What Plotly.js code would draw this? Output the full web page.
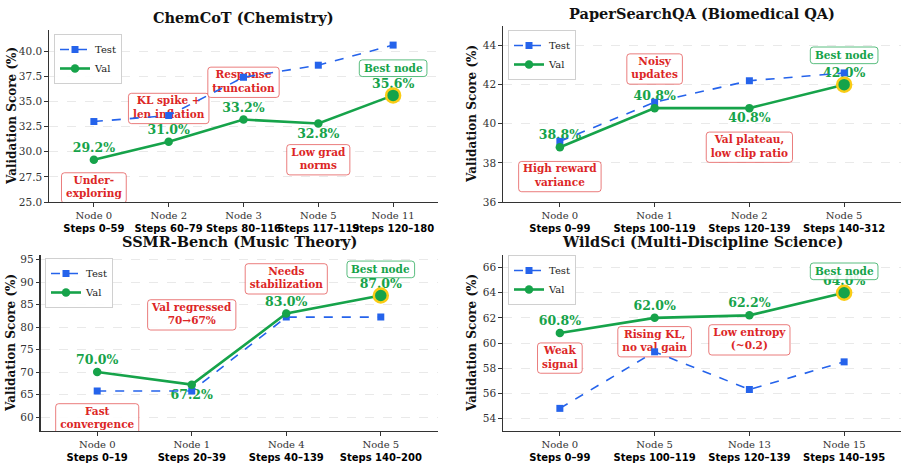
<!DOCTYPE html>
<html>
<head>
<meta charset="utf-8">
<script src="https://cdn.plot.ly/plotly-3.0.1.min.js"></script>
<style>
  html, body { margin: 0; padding: 0; background: #fff; }
  #chart { width: 908px; height: 464px; }
</style>
</head>
<body>
<div id="chart"></div>
<script>
// ---- ChemCoT (Chemistry) ----
const chemNodes = ['Node 0', 'Node 2', 'Node 3', 'Node 5', 'Node 11'];
const chemSteps = ['Steps 0–59', 'Steps 60–79', 'Steps 80–116', 'Steps 117–119', 'Steps 120–180'];
const chemTest = [33.0, 33.6, 37.4, 38.6, 40.6];
const chemVal = [29.2, 31.0, 33.2, 32.8, 35.6];

// ---- PaperSearchQA (Biomedical QA) ----
const paperNodes = ['Node 0', 'Node 1', 'Node 2', 'Node 5'];
const paperSteps = ['Steps 0–99', 'Steps 100–119', 'Steps 120–139', 'Steps 140–312'];
const paperTest = [39.1, 41.1, 42.2, 42.6];
const paperVal = [38.8, 40.8, 40.8, 42.0];

// ---- SSMR-Bench (Music Theory) ----
const ssmrNodes = ['Node 0', 'Node 1', 'Node 4', 'Node 5'];
const ssmrSteps = ['Steps 0–19', 'Steps 20–39', 'Steps 40–139', 'Steps 140–200'];
const ssmrTest = [65.8, 65.8, 82.2, 82.2];
const ssmrVal = [70.0, 67.2, 83.0, 87.0];

// ---- WildSci (Multi-Discipline Science) ----
const wildNodes = ['Node 0', 'Node 5', 'Node 13', 'Node 15'];
const wildSteps = ['Steps 0–99', 'Steps 100–119', 'Steps 120–139', 'Steps 140–195'];
const wildTest = [54.8, 59.3, 56.3, 58.5];
const wildVal = [60.8, 62.0, 62.2, 64.0];

const W = 908, H = 464;
const SERIF = 'DejaVu Serif, serif';
const SANS = 'DejaVu Sans';
const BLUE = '#2563eb';
const GREEN = '#16a34a';
const RED = '#dc2626';
const GOLD = '#facc15';
const AXIS = '#333333';
const NOTE_SIZE = 10.5;

const px = v => v / W;
const py = v => 1 - v / H;

// text measuring for the rounded note boxes
const ctx = document.createElement('canvas').getContext('2d');
ctx.font = 'bold ' + NOTE_SIZE + 'px "DejaVu Serif"';
function roundedBox(lines) {
  const w = Math.max(...lines.map(l => ctx.measureText(l).width)) + 9;
  const h = lines.length * NOTE_SIZE * 1.3 + 3;
  const a = w / 2, b = h / 2, r = 3;
  return 'M ' + (-a + r) + ',' + (-b) + ' L ' + (a - r) + ',' + (-b) +
    ' Q ' + a + ',' + (-b) + ' ' + a + ',' + (-b + r) +
    ' L ' + a + ',' + (b - r) + ' Q ' + a + ',' + b + ' ' + (a - r) + ',' + b +
    ' L ' + (-a + r) + ',' + b + ' Q ' + (-a) + ',' + b + ' ' + (-a) + ',' + (b - r) +
    ' L ' + (-a) + ',' + (-b + r) + ' Q ' + (-a) + ',' + (-b) + ' ' + (-a + r) + ',' + (-b) + ' Z';
}

// Layout of each panel (pixel boxes) plus its notes
const panels = [
  {
    title: 'ChemCoT (Chemistry)', nodes: chemNodes, steps: chemSteps, test: chemTest, val: chemVal,
    box: [49, 438, 30, 202], yRange: [25, 42.1], dtick: 2.5, fmt: '.1f',
    labelPos: ['top center', 'top center', 'top center', 'bottom center', 'top center'],
    notes: [[0, 26.4, ['Under-', 'exploring']], [1, 34.3, ['KL spike +', 'len inflation']],
            [2, 36.9, ['Response', 'truncation']], [3, 29.2, ['Low grad', 'norms']]],
    bestY: 38.3, legendAt: [54, 34], titleY: 17, yTitleX: 12
  },
  {
    title: 'PaperSearchQA (Biomedical QA)', nodes: paperNodes, steps: paperSteps, test: paperTest, val: paperVal,
    box: [503, 901, 26, 202], yRange: [36, 45], dtick: 2, fmt: 'd',
    labelPos: ['top center', 'top center', 'bottom center', 'top center'],
    notes: [[0, 37.3, ['High reward', 'variance']], [1, 42.8, ['Noisy', 'updates']],
            [2, 38.8, ['Val plateau,', 'low clip ratio']]],
    bestY: 43.5, legendAt: [508, 30], titleY: 14, yTitleX: 472
  },
  {
    title: 'SSMR-Bench (Music Theory)', nodes: ssmrNodes, steps: ssmrSteps, test: ssmrTest, val: ssmrVal,
    box: [40.5, 437.5, 255, 431], yRange: [56.9, 96], dtick: 5, fmt: 'd',
    labelPos: ['top center', 'bottom center', 'top center', 'top center'],
    notes: [[0, 59.6, ['Fast', 'convergence']], [1, 82.7, ['Val regressed', '70→67%']],
            [2, 90.7, ['Needs', 'stabilization']]],
    bestY: 92.8, legendAt: [45, 258], titleY: 241, yTitleX: 11
  },
  {
    title: 'WildSci (Multi-Discipline Science)', nodes: wildNodes, steps: wildSteps, test: wildTest, val: wildVal,
    box: [503, 901, 255, 431], yRange: [53, 67], dtick: 2, fmt: 'd',
    labelPos: ['top center', 'top center', 'top center', 'top center'],
    notes: [[0, 58.8, ['Weak', 'signal']], [1, 60.1, ['Rising KL,', 'no val gain']],
            [2, 60.25, ['Low entropy', '(~0.2)']]],
    bestY: 65.7, legendAt: [508, 255], titleY: 241, yTitleX: 472
  }
];

const data = [];
const layout = {
  width: W, height: H,
  margin: {l: 0, r: 0, t: 0, b: 0},
  paper_bgcolor: '#ffffff',
  plot_bgcolor: '#ffffff',
  showlegend: true,
  font: {family: SERIF, color: AXIS},
  annotations: [],
  shapes: []
};

panels.forEach((p, i) => {
  const n = i === 0 ? '' : String(i + 1);
  const xa = 'x' + n, ya = 'y' + n;
  const legendName = 'legend' + n;
  const idx = p.nodes.map((_, k) => k);
  const best = p.val.indexOf(Math.max(...p.val));

  // diagnostic notes: rounded boxes and their text sit under the curves
  p.notes.forEach(([nx, ny, lines]) => {
    layout.shapes.push({
      type: 'path', xref: xa, yref: ya, xsizemode: 'pixel', ysizemode: 'pixel',
      xanchor: nx, yanchor: ny, path: roundedBox(lines), layer: 'between',
      fillcolor: 'rgba(255,255,255,0.9)', line: {color: 'rgba(220,38,38,0.6)', width: 1}
    });
  });
  data.push({
    x: p.notes.map(d => d[0]), y: p.notes.map(d => d[1]), xaxis: xa, yaxis: ya,
    type: 'scatter', mode: 'text', textposition: 'middle center',
    text: p.notes.map(d => d[2].join('<br>')),
    textfont: {family: SERIF, size: NOTE_SIZE, color: RED, weight: 'bold'},
    showlegend: false, hoverinfo: 'skip'
  });

  // value labels
  data.push({
    x: idx, y: p.val, xaxis: xa, yaxis: ya, type: 'scatter', mode: 'markers+text',
    text: p.val.map(v => v.toFixed(1) + '%'),
    textposition: p.labelPos,
    textfont: {family: SERIF, size: 12.5, color: GREEN, weight: 'bold'},
    marker: {size: 6, color: 'rgba(0,0,0,0)'},
    showlegend: false, hoverinfo: 'skip'
  });

  data.push({
    x: idx, y: p.test, xaxis: xa, yaxis: ya, type: 'scatter', mode: 'lines+markers',
    name: 'Test', legend: legendName,
    line: {color: BLUE, width: 1.6, dash: 'dash'},
    marker: {symbol: 'square', size: 7, color: BLUE}
  });

  data.push({
    x: idx, y: p.val, xaxis: xa, yaxis: ya, type: 'scatter', mode: 'lines+markers',
    name: 'Val', legend: legendName,
    line: {color: GREEN, width: 2.6},
    marker: {symbol: 'circle', color: GREEN, size: 8.5}
  });

  // highlighted best node, drawn on top of the Val curve
  data.push({
    x: [best], y: [p.val[best]], xaxis: xa, yaxis: ya, type: 'scatter', mode: 'markers',
    marker: {symbol: 'circle', color: GREEN, size: 14, line: {color: GOLD, width: 2.5}},
    showlegend: false, hoverinfo: 'skip'
  });

  const [x0, x1, yTop, yBot] = p.box;
  layout['xaxis' + n] = {
    domain: [px(x0), px(x1)], anchor: ya,
    range: [-0.6, p.nodes.length - 0.4],
    tickmode: 'array', tickvals: idx,
    ticktext: p.nodes.map((t, k) => t + '<br><span style="font-family:' + SANS + ';font-weight:bold;color:#000">' + p.steps[k] + '</span>'),
    tickangle: 0,
    tickfont: {family: SERIF, size: 10, color: AXIS},
    ticks: 'outside', ticklen: 3.5, tickcolor: AXIS, tickwidth: 1,
    showline: true, linecolor: AXIS, linewidth: 1.2,
    showgrid: false, zeroline: false, fixedrange: true
  };
  layout['yaxis' + n] = {
    domain: [py(yBot), py(yTop)], anchor: xa,
    range: p.yRange, dtick: p.dtick, tick0: 0, tickformat: p.fmt,
    tickfont: {family: SERIF, size: 10.5, color: AXIS},
    ticks: 'outside', ticklen: 3.5, tickcolor: AXIS, tickwidth: 1,
    showline: true, linecolor: AXIS, linewidth: 1.2,
    showgrid: true, gridcolor: '#e4e4e4', griddash: 'dash', gridwidth: 0.8,
    zeroline: false, fixedrange: true
  };
  layout[legendName] = {
    x: px(p.legendAt[0]), y: py(p.legendAt[1]), xanchor: 'left', yanchor: 'top',
    xref: 'paper', yref: 'paper',
    bgcolor: 'rgba(255,255,255,0.9)', bordercolor: '#d0d0d0', borderwidth: 1,
    font: {family: SERIF, size: 10, color: '#222'},
    tracegroupgap: 0, itemwidth: 30
  };

  // panel title
  layout.annotations.push({
    xref: 'paper', yref: 'paper', x: px((x0 + x1) / 2), y: py(p.titleY),
    xanchor: 'center', yanchor: 'middle', showarrow: false,
    text: '<b>' + p.title + '</b>',
    font: {family: SERIF, size: 14.5, color: '#111'}
  });
  // y-axis title
  layout.annotations.push({
    xref: 'paper', yref: 'paper', x: px(p.yTitleX), y: py((yTop + yBot) / 2),
    xanchor: 'center', yanchor: 'middle', showarrow: false, textangle: -90,
    text: '<b>Validation Score (%)</b>',
    font: {family: SERIF, size: 12, color: '#111'}
  });
  // best node tag: rounded box above the value labels, text on top
  layout.shapes.push({
    type: 'path', xref: xa, yref: ya, xsizemode: 'pixel', ysizemode: 'pixel',
    xanchor: best, yanchor: p.bestY, path: roundedBox(['Best node']), layer: 'above',
    fillcolor: 'rgba(255,255,255,0.88)', line: {color: 'rgba(22,163,74,0.7)', width: 1}
  });
  layout.annotations.push({
    xref: xa, yref: ya, x: best, y: p.bestY, xanchor: 'center', yanchor: 'middle',
    showarrow: false, text: '<b>Best node</b>',
    font: {family: SERIF, size: NOTE_SIZE, color: GREEN}
  });
});

Plotly.newPlot('chart', data, layout, {staticPlot: true, displayModeBar: false});
</script>
</body>
</html>
